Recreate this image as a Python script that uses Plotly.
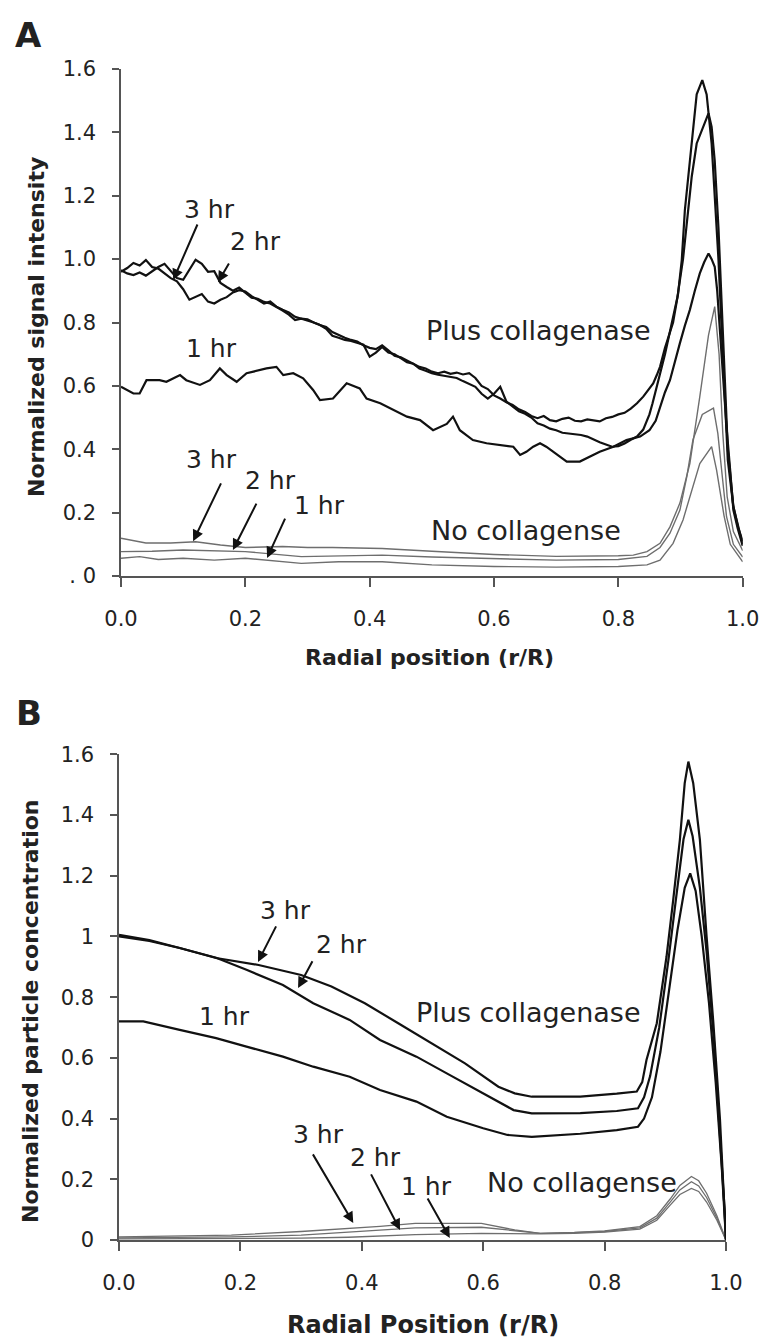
import plotly.graph_objects as go

# ---------------- Panel A data (signal intensity) ----------------
a_x_main = [i / 100 for i in range(0, 85)]
a_plus_3hr_main = [0.960, 0.972, 0.988, 0.980, 0.997, 0.975, 0.970, 0.955, 0.940, 0.930,
                   0.905, 0.872, 0.880, 0.890, 0.866, 0.860, 0.872, 0.880, 0.895, 0.902,
                   0.898, 0.883, 0.872, 0.860, 0.866, 0.850, 0.840, 0.832, 0.818, 0.812,
                   0.808, 0.800, 0.792, 0.786, 0.770, 0.760, 0.752, 0.745, 0.740, 0.728,
                   0.720, 0.716, 0.728, 0.712, 0.695, 0.690, 0.680, 0.672, 0.660, 0.655,
                   0.645, 0.640, 0.645, 0.638, 0.642, 0.636, 0.640, 0.625, 0.600, 0.590,
                   0.570, 0.560, 0.548, 0.540, 0.526, 0.518, 0.505, 0.498, 0.505, 0.492,
                   0.488, 0.496, 0.500, 0.490, 0.488, 0.494, 0.492, 0.488, 0.498, 0.502,
                   0.510, 0.515, 0.528, 0.545, 0.566]
a_plus_2hr_main = [0.965, 0.955, 0.950, 0.958, 0.948, 0.962, 0.975, 0.985, 0.962, 0.940,
                   0.935, 0.965, 0.998, 0.985, 0.960, 0.962, 0.925, 0.912, 0.900, 0.910,
                   0.895, 0.878, 0.875, 0.865, 0.860, 0.850, 0.838, 0.825, 0.808, 0.812,
                   0.810, 0.800, 0.792, 0.780, 0.758, 0.752, 0.745, 0.742, 0.735, 0.730,
                   0.692, 0.705, 0.723, 0.705, 0.700, 0.688, 0.675, 0.670, 0.655, 0.648,
                   0.640, 0.635, 0.632, 0.628, 0.625, 0.615, 0.605, 0.597, 0.575, 0.560,
                   0.575, 0.597, 0.550, 0.535, 0.520, 0.512, 0.500, 0.482, 0.475, 0.465,
                   0.460, 0.452, 0.450, 0.448, 0.445, 0.440, 0.430, 0.422, 0.415, 0.408,
                   0.410, 0.418, 0.430, 0.440, 0.462]
a_plus_3hr_peak_x = [0.85, 0.856, 0.862, 0.867, 0.875, 0.882, 0.888, 0.896, 0.902, 0.907,
                     0.915, 0.921, 0.926, 0.935, 0.942, 0.95, 0.955, 0.961, 0.966, 0.971,
                     0.976, 0.985, 0.993, 1.0]
a_plus_3hr_peak_y = [0.590, 0.608, 0.635, 0.660, 0.720, 0.760, 0.800, 0.890, 0.997, 1.155,
                     1.310, 1.417, 1.520, 1.565, 1.520, 1.365, 1.207, 1.000, 0.786, 0.576,
                     0.366, 0.218, 0.150, 0.100]
a_plus_2hr_peak_x = [0.85, 0.855, 0.865, 0.875, 0.885, 0.895, 0.904, 0.913, 0.918, 0.926,
                     0.936, 0.945, 0.95, 0.955, 0.961, 0.966, 0.971, 0.976, 0.985, 0.993, 1.0]
a_plus_2hr_peak_y = [0.510, 0.545, 0.620, 0.700, 0.790, 0.880, 1.000, 1.155, 1.260, 1.365,
                     1.417, 1.460, 1.417, 1.310, 1.100, 0.850, 0.620, 0.400, 0.220, 0.150, 0.110]

a_plus_1hr_x = [0.0, 0.009, 0.02, 0.03, 0.041, 0.062, 0.073, 0.095, 0.105, 0.127, 0.143,
                0.159, 0.17, 0.186, 0.202, 0.213, 0.234, 0.25, 0.261, 0.277, 0.293, 0.309,
                0.32, 0.341, 0.363, 0.384, 0.395, 0.417, 0.438, 0.46, 0.481, 0.502, 0.524,
                0.534, 0.545, 0.566, 0.588, 0.609, 0.631, 0.642, 0.652, 0.663, 0.674, 0.684,
                0.706, 0.717, 0.738, 0.749, 0.77, 0.792, 0.813, 0.835, 0.85, 0.86, 0.867,
                0.875, 0.883, 0.891, 0.899, 0.907, 0.915, 0.923, 0.931, 0.938, 0.945, 0.95,
                0.955, 0.959, 0.963, 0.968, 0.974, 0.98, 0.985, 0.992, 1.0]
a_plus_1hr_y = [0.597, 0.587, 0.576, 0.576, 0.618, 0.618, 0.613, 0.634, 0.618, 0.603, 0.618,
                0.655, 0.634, 0.613, 0.640, 0.645, 0.655, 0.660, 0.634, 0.640, 0.624, 0.587,
                0.555, 0.560, 0.608, 0.592, 0.560, 0.545, 0.524, 0.503, 0.492, 0.460, 0.480,
                0.503, 0.460, 0.429, 0.419, 0.413, 0.408, 0.382, 0.392, 0.408, 0.419, 0.408,
                0.376, 0.361, 0.361, 0.371, 0.392, 0.408, 0.429, 0.440, 0.460, 0.490, 0.534,
                0.580, 0.618, 0.680, 0.735, 0.790, 0.840, 0.900, 0.955, 0.990, 1.018, 1.000,
                0.976, 0.900, 0.786, 0.630, 0.470, 0.330, 0.208, 0.150, 0.095]

a_no_3hr_x = [0.0, 0.02, 0.04, 0.08, 0.12, 0.16, 0.2, 0.26, 0.3, 0.34, 0.42, 0.5, 0.6, 0.7,
              0.76, 0.8, 0.824, 0.846, 0.867, 0.883, 0.899, 0.915, 0.931, 0.945, 0.955,
              0.962, 0.968, 0.975, 0.985, 1.0]
a_no_3hr_y = [0.119, 0.112, 0.104, 0.104, 0.108, 0.098, 0.090, 0.093, 0.090, 0.090, 0.087,
              0.078, 0.068, 0.062, 0.062, 0.064, 0.066, 0.077, 0.103, 0.155, 0.230, 0.355,
              0.566, 0.760, 0.850, 0.700, 0.450, 0.250, 0.140, 0.080]
a_no_2hr_x = [0.0, 0.05, 0.1, 0.15, 0.2, 0.29, 0.42, 0.5, 0.6, 0.7, 0.8, 0.846, 0.867, 0.883,
              0.899, 0.91, 0.92, 0.935, 0.953, 0.96, 0.965, 0.974, 0.985, 1.0]
a_no_2hr_y = [0.077, 0.078, 0.082, 0.080, 0.077, 0.061, 0.066, 0.060, 0.055, 0.050, 0.052,
              0.062, 0.090, 0.135, 0.208, 0.313, 0.430, 0.510, 0.530, 0.450, 0.355, 0.187,
              0.100, 0.060]
a_no_1hr_x = [0.0, 0.03, 0.06, 0.1, 0.15, 0.2, 0.29, 0.35, 0.42, 0.5, 0.6, 0.7, 0.8, 0.846,
              0.867, 0.888, 0.904, 0.92, 0.931, 0.95, 0.958, 0.97, 0.98, 1.0]
a_no_1hr_y = [0.056, 0.061, 0.052, 0.056, 0.050, 0.056, 0.040, 0.045, 0.045, 0.035, 0.030,
              0.028, 0.030, 0.035, 0.050, 0.103, 0.177, 0.280, 0.355, 0.408, 0.334, 0.190,
              0.100, 0.045]

# ---------------- Panel B data (particle concentration) ----------------
b_plus_3hr_x = [0.0, 0.05, 0.1, 0.16, 0.23, 0.3, 0.35, 0.405, 0.46, 0.515, 0.57, 0.625, 0.652,
                0.68, 0.76, 0.82, 0.853, 0.862, 0.869, 0.886, 0.902, 0.913, 0.924, 0.932,
                0.938, 0.946, 0.957, 0.968, 0.979, 0.99, 0.998, 1.0]
b_plus_3hr_y = [1.005, 0.988, 0.962, 0.929, 0.906, 0.873, 0.835, 0.780, 0.714, 0.648, 0.582,
                0.505, 0.483, 0.472, 0.472, 0.482, 0.489, 0.520, 0.593, 0.714, 0.933, 1.120,
                1.318, 1.505, 1.576, 1.505, 1.318, 1.000, 0.720, 0.400, 0.100, 0.0]
b_plus_2hr_x = [0.0, 0.05, 0.1, 0.16, 0.21, 0.27, 0.32, 0.38, 0.43, 0.49, 0.54, 0.6, 0.65,
                0.68, 0.76, 0.82, 0.855, 0.865, 0.875, 0.89, 0.905, 0.918, 0.93, 0.938,
                0.945, 0.957, 0.968, 0.98, 0.99, 0.998, 1.0]
b_plus_2hr_y = [1.000, 0.985, 0.962, 0.930, 0.890, 0.840, 0.780, 0.725, 0.659, 0.604, 0.549,
                0.483, 0.428, 0.417, 0.418, 0.425, 0.434, 0.470, 0.540, 0.700, 0.920, 1.130,
                1.320, 1.384, 1.330, 1.160, 0.950, 0.660, 0.360, 0.090, 0.0]
b_plus_1hr_x = [0.0, 0.04, 0.1, 0.16, 0.21, 0.27, 0.32, 0.38, 0.43, 0.49, 0.54, 0.6, 0.64,
                0.68, 0.76, 0.82, 0.855, 0.865, 0.878, 0.892, 0.906, 0.92, 0.932, 0.941,
                0.95, 0.96, 0.972, 0.983, 0.993, 1.0]
b_plus_1hr_y = [0.720, 0.720, 0.692, 0.665, 0.637, 0.604, 0.571, 0.538, 0.494, 0.456, 0.406,
                0.368, 0.346, 0.340, 0.350, 0.362, 0.373, 0.400, 0.470, 0.620, 0.820, 1.020,
                1.160, 1.208, 1.150, 1.000, 0.780, 0.520, 0.240, 0.0]

b_no_x = [0.0, 0.1, 0.185, 0.3, 0.378, 0.43, 0.488, 0.597, 0.652, 0.694, 0.75, 0.8, 0.858,
          0.886, 0.908, 0.924, 0.943, 0.955, 0.968, 0.985, 1.0]
b_no_3hr_y = [0.010, 0.012, 0.016, 0.028, 0.038, 0.045, 0.055, 0.055, 0.033, 0.022, 0.025,
              0.030, 0.044, 0.080, 0.135, 0.180, 0.209, 0.195, 0.154, 0.080, 0.0]
b_no_2hr_y = [0.007, 0.008, 0.010, 0.016, 0.025, 0.033, 0.040, 0.042, 0.030, 0.022, 0.024,
              0.028, 0.040, 0.072, 0.125, 0.165, 0.192, 0.178, 0.140, 0.072, 0.0]
b_no_1hr_y = [0.004, 0.004, 0.005, 0.006, 0.009, 0.013, 0.018, 0.022, 0.020, 0.020, 0.022,
              0.026, 0.036, 0.065, 0.115, 0.150, 0.170, 0.160, 0.125, 0.065, 0.0]

x_tick_vals = [0.0, 0.2, 0.4, 0.6, 0.8, 1.0]
x_tick_text = ["0.0", "0.2", "0.4", "0.6", "0.8", "1.0"]
y_tick_vals = [0.0, 0.2, 0.4, 0.6, 0.8, 1.0, 1.2, 1.4, 1.6]
a_y_tick_text = [". 0", "0.2", "0.4", "0.6", "0.8", "1.0", "1.2", "1.4", "1.6"]
b_y_tick_text = ["0", "0.2", "0.4", "0.6", "0.8", "1", "1.2", "1.4", "1.6"]

# ---------------- figure ----------------
W, H = 762, 1338
BLACK = "#111111"
GRAY = "#6e6e6e"
TXT = "#222222"
AX = "#555555"

fig = go.Figure()

def line(x, y, xa, ya, color, width, name):
    fig.add_trace(go.Scatter(x=x, y=y, mode="lines", xaxis=xa, yaxis=ya, name=name,
                             line=dict(color=color, width=width), showlegend=False,
                             hoverinfo="skip"))

# Panel A gray (no collagenase)
line(a_no_3hr_x, a_no_3hr_y, "x", "y", GRAY, 1.4, "A no 3hr")
line(a_no_2hr_x, a_no_2hr_y, "x", "y", GRAY, 1.4, "A no 2hr")
line(a_no_1hr_x, a_no_1hr_y, "x", "y", GRAY, 1.4, "A no 1hr")
# Panel A black (plus collagenase)
line(a_x_main + a_plus_3hr_peak_x, a_plus_3hr_main + a_plus_3hr_peak_y, "x", "y", BLACK, 2.2, "A 3hr")
line(a_x_main + a_plus_2hr_peak_x, a_plus_2hr_main + a_plus_2hr_peak_y, "x", "y", BLACK, 2.2, "A 2hr")
line(a_plus_1hr_x, a_plus_1hr_y, "x", "y", BLACK, 2.2, "A 1hr")

# Panel B gray
line(b_no_x, b_no_3hr_y, "x2", "y2", GRAY, 1.3, "B no 3hr")
line(b_no_x, b_no_2hr_y, "x2", "y2", GRAY, 1.3, "B no 2hr")
line(b_no_x, b_no_1hr_y, "x2", "y2", GRAY, 1.3, "B no 1hr")
# Panel B black
line(b_plus_3hr_x, b_plus_3hr_y, "x2", "y2", BLACK, 2.2, "B 3hr")
line(b_plus_2hr_x, b_plus_2hr_y, "x2", "y2", BLACK, 2.2, "B 2hr")
line(b_plus_1hr_x, b_plus_1hr_y, "x2", "y2", BLACK, 2.2, "B 1hr")

tick_font = dict(family="DejaVu Sans", size=21, color=TXT)
common_x = dict(range=[0, 1], tickvals=x_tick_vals, ticktext=x_tick_text, showgrid=False,
                zeroline=False, showline=True, linecolor=AX, linewidth=1.5, ticks="outside",
                ticklen=9, tickwidth=1.5, tickcolor=AX, tickfont=tick_font,
                ticklabelstandoff=14, fixedrange=True, automargin=False)
common_y = dict(range=[0, 1.6], tickvals=y_tick_vals, showgrid=False, zeroline=False,
                showline=True, linecolor=AX, linewidth=1.5, ticks="outside", ticklen=7,
                tickwidth=1.5, tickcolor=AX, tickfont=tick_font, ticklabelstandoff=12,
                fixedrange=True, automargin=False)

fig.update_layout(
    template="none",
    width=W, height=H, margin=dict(l=0, r=0, t=0, b=0, pad=0, autoexpand=False),
    paper_bgcolor="white", plot_bgcolor="white",
    xaxis=dict(domain=[121 / W, 742.7 / W], anchor="y", **common_x),
    yaxis=dict(domain=[1 - 576 / H, 1 - 69 / H], anchor="x", ticktext=a_y_tick_text, **common_y),
    xaxis2=dict(domain=[119 / W, 726 / W], anchor="y2", **common_x),
    yaxis2=dict(domain=[1 - 1240 / H, 1 - 754.3 / H], anchor="x2", ticktext=b_y_tick_text, **common_y),
)

ann = []

def label(text, x, y, xref, yref, size=25, bold=False, angle=0):
    ann.append(dict(text=("<b>%s</b>" % text) if bold else text, x=x, y=y, xref=xref, yref=yref,
                    showarrow=False, xanchor="center", yanchor="middle", textangle=angle,
                    font=dict(family="DejaVu Sans", size=size, color=TXT)))

def arrow(x_head, y_head, x_tail, y_tail, xr, yr):
    ann.append(dict(text="", x=x_head, y=y_head, ax=x_tail, ay=y_tail, xref=xr, yref=yr,
                    axref=xr, ayref=yr, showarrow=True, arrowhead=2, arrowsize=1.1,
                    arrowwidth=2, arrowcolor=BLACK, standoff=0, startstandoff=0))

# Panel letters and axis titles
label("A", 28 / W, 1 - 35 / H, "paper", "paper", size=34, bold=True)
label("B", 29 / W, 1 - 713 / H, "paper", "paper", size=34, bold=True)
label("Normalized signal intensity", 36 / W, 1 - 327 / H, "paper", "paper", size=22, bold=True, angle=-90)
label("Normalized particle concentration", 30 / W, 1 - 1011 / H, "paper", "paper", size=22, bold=True, angle=-90)
label("Radial position (r/R)", 429 / W, 1 - 657 / H, "paper", "paper", size=22, bold=True)
label("Radial Position (r/R)", 423 / W, 1 - 1325 / H, "paper", "paper", size=24, bold=True)

# Panel A labels
label("3 hr", 0.143, 1.158, "x", "y")
label("2 hr", 0.217, 1.057, "x", "y")
arrow(0.084, 0.934, 0.124, 1.114, "x", "y")
arrow(0.156, 0.927, 0.175, 0.991, "x", "y")
label("1 hr", 0.145, 0.719, "x", "y")
label("Plus collagenase", 0.672, 0.776, "x", "y", size=27)
label("No collagense", 0.651, 0.145, "x", "y", size=27)
label("3 hr", 0.145, 0.369, "x", "y")
label("2 hr", 0.240, 0.300, "x", "y")
label("1 hr", 0.320, 0.224, "x", "y")
arrow(0.116, 0.110, 0.162, 0.297, "x", "y")
arrow(0.180, 0.082, 0.219, 0.233, "x", "y")
arrow(0.235, 0.057, 0.265, 0.186, "x", "y")

# Panel B labels
label("3 hr", 0.275, 1.087, "x2", "y2")
label("2 hr", 0.367, 0.972, "x2", "y2")
arrow(0.229, 0.916, 0.260, 1.038, "x2", "y2")
arrow(0.295, 0.830, 0.320, 0.923, "x2", "y2")
label("1 hr", 0.173, 0.735, "x2", "y2")
label("Plus collagenase", 0.674, 0.748, "x2", "y2", size=27)
label("No collagense", 0.763, 0.191, "x2", "y2", size=27)
label("3 hr", 0.328, 0.346, "x2", "y2")
label("2 hr", 0.422, 0.273, "x2", "y2")
label("1 hr", 0.506, 0.175, "x2", "y2")
arrow(0.386, 0.056, 0.318, 0.287, "x2", "y2")
arrow(0.463, 0.033, 0.414, 0.221, "x2", "y2")
arrow(0.545, 0.007, 0.507, 0.142, "x2", "y2")

fig.update_layout(annotations=ann)
fig.write_html("out.html", config={"responsive": False, "displayModeBar": False},
               post_script="document.body.style.margin='0';document.body.style.overflow='hidden';")
